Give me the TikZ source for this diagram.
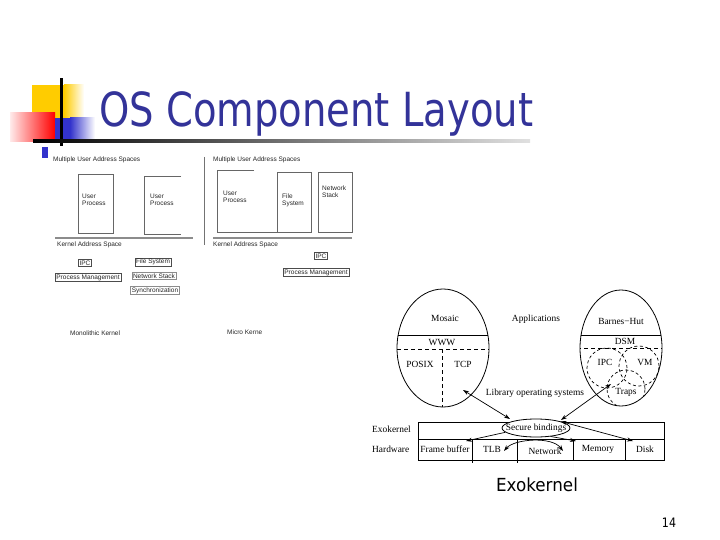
\documentclass[tikz,border=0pt]{standalone}
\usepackage{fontspec}
\setmainfont{Liberation Serif}
\newfontfamily\titlefont{DejaVu Sans}
\newfontfamily\smallsans{Liberation Sans}
\usetikzlibrary{arrows.meta,shapes.geometric}
\definecolor{titleblue}{RGB}{51,51,153}
\definecolor{slideyellow}{RGB}{255,204,0}
\definecolor{slidered}{RGB}{255,0,0}
\definecolor{slideblue}{RGB}{51,51,204}
\tikzset{
  lbl/.style={inner sep=0pt, font=\smallsans\fontsize{6.5}{7.2}\selectfont, text=black!85, align=left},
  kbox/.style={draw=black!70, line width=0.5pt, inner xsep=1.2pt, inner ysep=1pt, font=\smallsans\fontsize{6.5}{7.2}\selectfont, text=black!85},
  pbox/.style={draw=black!60, line width=0.6pt},
  exo/.style={inner sep=0pt, font=\fontsize{9.4}{10}\selectfont},
  exoline/.style={line width=0.8pt},
  exoarrow/.style={line width=0.7pt, >={Stealth[length=6pt,width=4pt]}},
}
\begin{document}
\begin{tikzpicture}[x=1pt,y=-1pt]
\useasboundingbox (0,0) rectangle (720,540);
\fill[white] (0,0) rectangle (720,540);
% ---- decoration ----
\fill[slideyellow] (32,85) rectangle (64,118);
\shade[left color=slideyellow, right color=white] (64,85) rectangle (84,118);
\shade[left color=red!8, right color=slidered] (10,113) rectangle (55,142);
\fill[slideblue] (55,118) rectangle (70,142);
\shade[left color=slideblue, right color=white] (70,118) rectangle (95,142);
\fill[black] (60,78) rectangle (62.5,146);
\shade[left color=black, right color=black!12] (33,139.8) rectangle (530,142.3);
\fill[slideblue] (42,147) rectangle (48,158);
% ---- title ----
\node[anchor=base west, inner sep=0pt, text=titleblue] (title) at (99,127)
  {\scalebox{0.82}[1]{\fontsize{47}{47}\titlefont OS Component Layout}};
% ---- monolithic kernel panel ----
\node[lbl, anchor=west] (mua1) at (53,160) {Multiple User Address Spaces};
\draw[pbox] (78,174) rectangle (113,233);
\node[lbl, anchor=west] (up1) at (82,200) {User\\Process};
\draw[pbox] (181,176) -- (144,176) -- (144,234) -- (181,234);
\node[lbl, anchor=west] (up2) at (150,200) {User\\Process};
\draw[black!45, line width=1.2pt] (55,238) -- (193,238);
\node[lbl, anchor=west] (kas1) at (57,245) {Kernel Address Space};
\node[kbox] (ipc1) at (85,263) {IPC};
\node[kbox] (fs1) at (153,262) {File System};
\node[kbox] (pm1) at (88,277.5) {Process Management};
\node[kbox, draw=black!45] (ns1) at (154,276) {Network Stack};
\node[kbox, draw=black!45] (sync1) at (155,290.5) {Synchronization};
\node[lbl, anchor=west] (mono) at (70,333) {Monolithic Kernel};
% ---- micro kernel panel ----
\draw[black!55, line width=0.6pt] (204,157) -- (204,245);
\node[lbl, anchor=west] (mua2) at (213,160) {Multiple User Address Spaces};
\draw[pbox] (254,170) -- (217,170) -- (217,232) -- (277,232);
\draw[pbox] (277,172) rectangle (311,232);
\node[lbl, anchor=west] (up3) at (223,197) {User\\Process};
\node[lbl, anchor=west] (fs2) at (282,200) {File\\System};
\draw[pbox] (318,172) rectangle (352,232);
\node[lbl, anchor=west] (ns2) at (322,192) {Network\\Stack};
\draw[black!45, line width=1.2pt] (213,238) -- (352,238);
\node[lbl, anchor=west] (kas2) at (213,245) {Kernel Address Space};
\node[kbox] (ipc2) at (321,256) {IPC};
\node[kbox] (pm2) at (316,272.5) {Process Management};
\node[lbl, anchor=west] (micro) at (227,332) {Micro Kerne};
% ---- exokernel figure ----
\node[draw, ellipse, exoline, minimum width=92pt, minimum height=118pt, inner sep=0pt] (lell) at (443,348) {};
\begin{scope}
  \clip (443,348) ellipse [x radius=46pt, y radius=59pt];
  \draw[exoline] (390,335) -- (500,335);
  \draw[exoline, dash pattern=on 4pt off 3pt] (390,349) -- (500,349);
  \draw[exoline, dash pattern=on 4pt off 3pt] (442,349) -- (442,420);
\end{scope}
\node[exo] (mosaic) at (445,318) {Mosaic};
\node[exo] (www) at (442,342) {WWW};
\node[exo] (posix) at (420,364) {POSIX};
\node[exo] (tcp) at (463,364) {TCP};
\node[exo] (apps) at (536,319) {Applications};
\node[draw, ellipse, exoline, minimum width=82pt, minimum height=116pt, inner sep=0pt] (rell) at (621,348) {};
\begin{scope}
  \clip (621,348) ellipse [x radius=41pt, y radius=58pt];
  \draw[exoline] (570,335) -- (670,335);
  \draw[exoline, dash pattern=on 4pt off 3pt] (570,348) -- (670,348);
  \draw[line width=0.7pt, dash pattern=on 3pt off 2.5pt] (607,368) circle [radius=20pt];
  \draw[line width=0.7pt, dash pattern=on 3pt off 2.5pt] (639,366) circle [radius=20pt];
  \draw[line width=0.7pt, dash pattern=on 3pt off 2.5pt] (626,389) circle [radius=19pt];
\end{scope}
\node[exo] (barnes) at (621,321) {Barnes−Hut};
\node[exo] (dsm) at (625,341) {DSM};
\node[exo] (ipc3) at (605,362) {IPC};
\node[exo] (vm) at (645,362) {VM};
\node[exo] (traps) at (626,392) {Traps};
\node[exo] (libos) at (535,393) {Library operating systems};
% table
\draw[exoline] (418,422) rectangle (664,460);
\draw[exoline] (418,439.5) -- (664,439.5);
\draw[exoline] (472,439.5) -- (472,463);
\draw[exoline] (517,439.5) -- (517,463);
\draw[exoline] (573,439.5) -- (573,460);
\draw[exoline] (625,439.5) -- (625,460);
\node[exo, anchor=west] (exolbl) at (372,429) {Exokernel};
\node[exo, anchor=west] (hwlbl) at (372,449.5) {Hardware};
\node[exo] (fb) at (445,449.5) {Frame buffer};
\node[exo] (tlb) at (492,449.5) {TLB};
\node[exo] (net) at (545,451) {Network};
\node[exo] (mem) at (598,449.5) {Memory};
\node[exo] (disk) at (645,449.5) {Disk};
\node[draw, fill=white, ellipse, exoline, minimum width=68pt, minimum height=18pt, inner sep=0pt] (sb) at (536,428) {};
\node[exo] (sbtext) at (536,428) {Secure bindings};
% arrows
\coordinate (lA) at (463,390);
\coordinate (sbL) at (510,419);
\coordinate (rA) at (611,384);
\coordinate (sbR) at (561,420);
\coordinate (fbA) at (466,441);
\coordinate (tlbA) at (504,451);
\coordinate (netA) at (563,451);
\coordinate (memA) at (576,441);
\coordinate (diskA) at (633,441);
\draw[exoarrow, <->] (lA) -- (sbL);
\draw[exoarrow, <->] (rA) -- (sbR);
\draw[exoarrow, ->] (sb.188) -- (fbA);
\draw[exoarrow, <->] (tlbA) .. controls (514,439) and (552,436) .. (netA);
\draw[exoarrow, ->] (sb.-30) -- (memA);
\draw[exoarrow, <->] (sb.15) -- (diskA);
% ---- caption ----
\node[anchor=base, inner sep=0pt] (cap) at (537,491)
  {\scalebox{0.93}[1]{\fontsize{18}{18}\titlefont Exokernel}};
\node[anchor=base, inner sep=0pt] (pnum) at (669,527)
  {\scalebox{0.85}[1]{\fontsize{13}{13}\titlefont 14}};
\end{tikzpicture}
\end{document}
